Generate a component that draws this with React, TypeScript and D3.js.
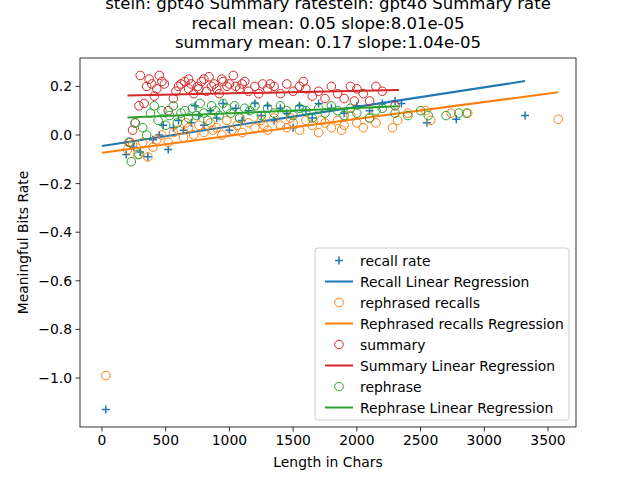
import * as d3 from 'd3'

type P = [number, number]

// recall rate (+)
const recall: P[] = [
  [30, -1.13], [190, -0.08], [250, -0.05], [300, -0.07], [360, -0.09], [400, -0.02], [450, 0.0], [480, 0.04],
  [520, -0.06], [560, 0.03], [600, 0.06], [640, 0.02], [700, 0.05], [730, 0.12], [760, 0.08], [800, 0.04],
  [850, 0.1], [900, 0.07], [950, 0.13], [1000, 0.02], [1050, 0.11], [1100, 0.06], [1150, 0.1], [1200, 0.13],
  [1250, 0.08], [1300, 0.12], [1350, 0.06], [1400, 0.11], [1450, 0.09], [1500, 0.03], [1550, 0.12], [1600, 0.1],
  [1650, 0.07], [1700, 0.13], [1800, 0.11], [1900, 0.09], [2000, 0.12], [2100, 0.1], [2200, 0.13],
  [2300, 0.14], [2350, 0.13], [2550, 0.05], [2780, 0.065], [3320, 0.08]
]
// rephrased recalls (orange o)
const rephrasedRecalls: P[] = [
  [30, -0.99], [200, -0.06], [240, -0.04], [280, -0.08], [320, -0.03], [360, -0.09], [400, -0.05], [430, -0.02],
  [470, 0.0], [520, -0.03], [560, 0.01], [600, 0.02], [640, -0.01], [680, 0.03], [720, 0.0], [760, 0.04],
  [800, 0.01], [850, 0.05], [900, 0.03], [940, 0.0], [980, 0.06], [1020, 0.02], [1060, 0.04], [1100, 0.01],
  [1150, 0.05], [1200, 0.03], [1250, 0.06], [1300, 0.02], [1350, 0.07], [1400, 0.04], [1450, 0.03], [1500, 0.05],
  [1550, 0.02], [1600, 0.06], [1650, 0.04], [1700, 0.01], [1750, 0.05], [1800, 0.03], [1850, 0.06], [1900, 0.04],
  [1950, 0.08], [2000, 0.05], [2050, 0.03], [2100, 0.07], [2150, 0.05], [2280, 0.03], [2320, 0.06], [2400, 0.09],
  [2540, 0.1], [2580, 0.06], [2740, 0.09], [2870, 0.09], [3580, 0.065], [660, 0.05], [870, 0.02], [1080, 0.07],
  [1270, 0.04], [1480, 0.07], [1720, 0.06], [1880, 0.02]
]
// summary (red o)
const summary: P[] = [
  [220, -0.03], [240, 0.02], [260, 0.05], [290, 0.12], [300, 0.245], [330, 0.13], [350, 0.2], [370, 0.23],
  [390, 0.21], [410, 0.16], [430, 0.19], [450, 0.245], [470, 0.22], [490, 0.21], [520, 0.1], [560, 0.15],
  [600, 0.2], [620, 0.21], [650, 0.22], [680, 0.19], [700, 0.21], [720, 0.17], [750, 0.2], [780, 0.22],
  [800, 0.23], [820, 0.18], [840, 0.24], [860, 0.2], [880, 0.21], [900, 0.19], [920, 0.17], [950, 0.22],
  [980, 0.2], [1000, 0.21], [1030, 0.245], [1050, 0.2], [1080, 0.19], [1100, 0.21], [1150, 0.18], [1200, 0.2],
  [1230, 0.17], [1260, 0.21], [1300, 0.19], [1350, 0.2], [1400, 0.17], [1450, 0.21], [1500, 0.18], [1550, 0.2],
  [1600, 0.19], [1650, 0.16], [1700, 0.18], [1750, 0.15], [1800, 0.2], [1850, 0.17], [1900, 0.15], [1950, 0.2],
  [2000, 0.19], [2050, 0.17], [2100, 0.14], [2150, 0.2], [2200, 0.18], [2300, 0.12], [760, 0.19], [940, 0.23],
  [1120, 0.22], [680, 0.23], [580, 0.18], [1320, 0.21], [1580, 0.22], [1980, 0.14]
]
// rephrase (green o)
const rephrase: P[] = [
  [210, -0.03], [230, -0.11], [260, 0.05], [290, -0.08], [320, 0.03], [350, 0.0], [380, 0.09], [410, 0.12],
  [440, 0.06], [470, 0.1], [500, 0.04], [530, 0.08], [560, 0.12], [590, 0.05], [620, 0.09], [650, 0.1],
  [680, 0.07], [710, 0.11], [740, 0.08], [770, 0.13], [800, 0.09], [830, 0.06], [860, 0.12], [890, 0.1],
  [920, 0.08], [950, 0.13], [980, 0.11], [1010, 0.09], [1040, 0.12], [1080, 0.07], [1120, 0.11], [1160, 0.1],
  [1200, 0.12], [1250, 0.08], [1300, 0.11], [1350, 0.09], [1400, 0.12], [1450, 0.1], [1500, 0.08], [1550, 0.11],
  [1600, 0.1], [1650, 0.07], [1700, 0.11], [1750, 0.09], [1800, 0.12], [1850, 0.1], [1900, 0.08], [1950, 0.11],
  [2000, 0.09], [2100, 0.07], [2150, 0.1], [2200, 0.11], [2300, 0.09], [2400, 0.08], [2500, 0.1], [2560, 0.08],
  [2700, 0.08], [2800, 0.09], [2860, 0.09]
]

// regression endpoints
const recallFit: P[] = [[0, -0.045], [3320, 0.222]]
const rephrasedRecallFit: P[] = [[0, -0.073], [3580, 0.176]]
const summaryFit: P[] = [[200, 0.163], [2330, 0.185]]
const rephraseFit: P[] = [[200, 0.072], [2330, 0.118]]

const titleLines = [
  'stein: gpt4o Summary ratestein: gpt4o Summary rate',
  'recall mean: 0.05 slope:8.01e-05',
  'summary mean: 0.17 slope:1.04e-05'
]
const xTicks = [0, 500, 1000, 1500, 2000, 2500, 3000, 3500]
const yTicks = [0.2, 0.0, -0.2, -0.4, -0.6, -0.8, -1.0]

const BLUE = '#1f77b4', ORANGE = '#ff7f0e', RED = '#d62728', GREEN = '#2ca02c'

export default function App() {
  const left = 80, right = 576, top = 58, bottom = 427
  const x = d3.scaleLinear().domain([0, 3500]).range([102, 548])
  const y = d3.scaleLinear().domain([0, -1]).range([135, 378])
  const line = d3.line<P>().x(d => x(d[0])).y(d => y(d[1]))
  const font = 'DejaVu Sans, sans-serif'

  const circles = (data: P[], c: string) =>
    data.map((d, i) => (
      <circle key={i} cx={x(d[0])} cy={y(d[1])} r={4.3} fill="none" stroke={c} strokeWidth={1} />
    ))

  const legend: [string, string, string][] = [
    ['plus', BLUE, 'recall rate'],
    ['line', BLUE, 'Recall Linear Regression'],
    ['circle', ORANGE, 'rephrased recalls'],
    ['line', ORANGE, 'Rephrased recalls Regression'],
    ['circle', RED, 'summary'],
    ['line', RED, 'Summary Linear Regression'],
    ['circle', GREEN, 'rephrase'],
    ['line', GREEN, 'Rephrase Linear Regression']
  ]

  return (
    <svg width={640} height={480} style={{ position: 'absolute', left: 0, top: 0 }} fontFamily={font}>
      <rect width={640} height={480} fill="#fff" />
      {titleLines.map((t, i) => (
        <text key={i} x={328} y={9 + i * 19.5} textAnchor="middle" fontSize={16.5}>{t}</text>
      ))}
      <defs>
        <clipPath id="plot"><rect x={left} y={top} width={right - left} height={bottom - top} /></clipPath>
      </defs>
      <g clipPath="url(#plot)">
        {recall.map((d, i) => (
          <path key={i} d={`M${x(d[0]) - 4},${y(d[1])}h8M${x(d[0])},${y(d[1]) - 4}v8`} stroke={BLUE} strokeWidth={1.5} />
        ))}
        <path d={line(recallFit) ?? ''} stroke={BLUE} strokeWidth={2} fill="none" />
        {circles(rephrasedRecalls, ORANGE)}
        <path d={line(rephrasedRecallFit) ?? ''} stroke={ORANGE} strokeWidth={2} fill="none" />
        {circles(summary, RED)}
        <path d={line(summaryFit) ?? ''} stroke={RED} strokeWidth={2} fill="none" />
        {circles(rephrase, GREEN)}
        <path d={line(rephraseFit) ?? ''} stroke={GREEN} strokeWidth={2} fill="none" />
      </g>
      <rect x={left} y={top} width={right - left} height={bottom - top} fill="none" stroke="#000" strokeWidth={0.8} />
      {xTicks.map(t => (
        <g key={t}>
          <line x1={x(t)} x2={x(t)} y1={bottom} y2={bottom + 4.5} stroke="#000" strokeWidth={0.8} />
          <text x={x(t)} y={bottom + 18} textAnchor="middle" fontSize={13.9}>{t}</text>
        </g>
      ))}
      {yTicks.map(t => (
        <g key={t}>
          <line x1={left - 4.5} x2={left} y1={y(t)} y2={y(t)} stroke="#000" strokeWidth={0.8} />
          <text x={left - 8} y={y(t) + 5} textAnchor="end" fontSize={13.9}>{t === 0 ? '0.0' : t.toFixed(1).replace('-', '−')}</text>
        </g>
      ))}
      <text x={328} y={467} textAnchor="middle" fontSize={13.9}>Length in Chars</text>
      <text transform={`translate(28,${(top + bottom) / 2}) rotate(-90)`} textAnchor="middle" fontSize={13.9}>Meaningful Bits Rate</text>
      <rect x={315} y={248} width={254} height={172} rx={3} fill="#fff" fillOpacity={0.8} stroke="#ccc" />
      {legend.map(([kind, c, label], i) => {
        const cy = 260.5 + i * 21
        return (
          <g key={i}>
            {kind === 'line' && <line x1={325} x2={353} y1={cy} y2={cy} stroke={c} strokeWidth={2} />}
            {kind === 'circle' && <circle cx={339} cy={cy} r={4.3} fill="none" stroke={c} />}
            {kind === 'plus' && <path d={`M335,${cy}h8M339,${cy - 4}v8`} stroke={c} strokeWidth={1.5} />}
            <text x={360} y={cy + 5} fontSize={13.9}>{label}</text>
          </g>
        )
      })}
    </svg>
  )
}
